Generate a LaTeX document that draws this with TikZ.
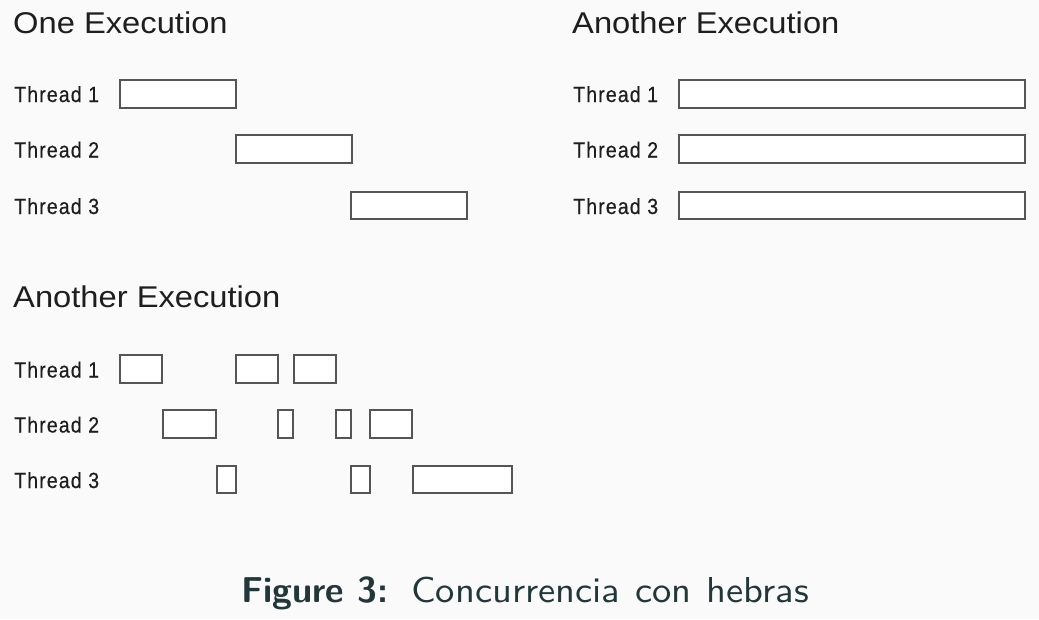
\documentclass[tikz,border=0pt]{standalone}
\usepackage{fontspec}
\newfontfamily\titlefont[FakeStretch=1.09]{Liberation Sans}
\newfontfamily\labelfont[FakeStretch=0.89,LetterSpace=5,FakeBold=0.4]{Liberation Sans}
\newfontfamily\capfont[FakeStretch=1.07]{Latin Modern Sans}
\definecolor{bgcol}{HTML}{FAFAFA}
\definecolor{capcol}{HTML}{23373B}
\definecolor{slotline}{HTML}{555555}
\definecolor{txtcol}{HTML}{1E1E1E}
\tikzset{
  ttl/.style={anchor=base west, inner sep=0pt, text=txtcol, font=\titlefont\fontsize{30}{30}\selectfont},
  lbl/.style={anchor=base west, inner sep=0pt, text=txtcol, font=\labelfont\fontsize{22}{22}\selectfont},
  slot/.style={draw=slotline, fill=white, line width=2pt, anchor=north west, inner sep=0pt, minimum height=27.5pt},
}
\begin{document}
\begin{tikzpicture}[x=1pt,y=-1pt]
\fill[bgcol] (0,0) rectangle (1039,619);
\useasboundingbox (0,0) rectangle (1039,619);
% ---------- One Execution ----------
\node[ttl] (t1) at (13,33) {One Execution};
\node[lbl] (a1) at (14,102) {Thread 1};
\node[lbl] (a2) at (14,157.5) {Thread 2};
\node[lbl] (a3) at (14,214) {Thread 3};
\node[slot, minimum width=115.5pt] (a1b1) at (119,79) {};
\node[slot, minimum width=115.5pt] (a2b1) at (235,134) {};
\node[slot, minimum width=115.5pt] (a3b1) at (350,190.5) {};
% ---------- Another Execution (right) ----------
\node[ttl] (t2) at (572,33) {Another Execution};
\node[lbl] (b1) at (573,102) {Thread 1};
\node[lbl] (b2) at (573,157.5) {Thread 2};
\node[lbl] (b3) at (573,214) {Thread 3};
\node[slot, minimum width=345.5pt] (b1b1) at (678,79) {};
\node[slot, minimum width=345.5pt] (b2b1) at (678,134) {};
\node[slot, minimum width=345.5pt] (b3b1) at (678,190.5) {};
% ---------- Another Execution (bottom) ----------
\node[ttl] (t3) at (13,307) {Another Execution};
\node[lbl] (c1) at (14,377.5) {Thread 1};
\node[lbl] (c2) at (14,432.5) {Thread 2};
\node[lbl] (c3) at (14,488) {Thread 3};
% thread 1
\node[slot, minimum width=42pt] (c1b1) at (119,354) {};
\node[slot, minimum width=42pt] (c1b2) at (235,354) {};
\node[slot, minimum width=42pt] (c1b3) at (292.5,354) {};
% thread 2
\node[slot, minimum width=53.5pt] (c2b1) at (161.5,409) {};
\node[slot, minimum width=15pt] (c2b2) at (277,409) {};
\node[slot, minimum width=15pt] (c2b3) at (335,409) {};
\node[slot, minimum width=42pt] (c2b4) at (369,409) {};
% thread 3
\node[slot, minimum width=18.5pt] (c3b1) at (216,464.5) {};
\node[slot, minimum width=18.5pt] (c3b2) at (350,464.5) {};
\node[slot, minimum width=99.5pt] (c3b3) at (411.5,464.5) {};
% ---------- caption ----------
\node[anchor=base west, inner sep=0pt, text=capcol] (cap) at (241,602) {\scalebox{3.6}{\fontsize{10}{12}\selectfont\sffamily\textbf{Figure 3:}\hspace{6.4pt}{\capfont\spaceskip=4.2pt\relax Concurrencia con hebras}}};
\end{tikzpicture}
\end{document}
